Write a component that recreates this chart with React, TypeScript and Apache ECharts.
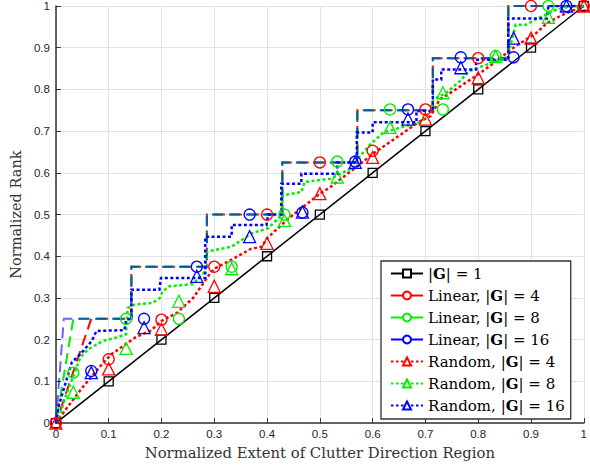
import React, { useEffect, useRef } from 'react';
import * as echarts from 'echarts';

// ---- tick labels ----
const X_TICKS = [0, 0.1, 0.2, 0.3, 0.4, 0.5, 0.6, 0.7, 0.8, 0.9, 1];
const Y_TICKS = [0, 0.1, 0.2, 0.3, 0.4, 0.5, 0.6, 0.7, 0.8, 0.9, 1];

// ---- |G| = 1 ----
const G1_LINE_X = [0, 1];
const G1_LINE_Y = [0, 1];
const G1_MK_X = [0, 0.1, 0.2, 0.3, 0.4, 0.5, 0.6, 0.7, 0.8, 0.9, 1];
const G1_MK_Y = [0, 0.1, 0.2, 0.3, 0.4, 0.5, 0.6, 0.7, 0.8, 0.9, 1];

// ---- Linear staircases ----
const LIN4_X = [0, 0.067, 0.143, 0.143, 0.286, 0.286, 0.429, 0.429, 0.571, 0.571, 0.714, 0.714, 0.857, 0.857, 1];
const LIN8_X = [0, 0.033, 0.143, 0.143, 0.286, 0.286, 0.429, 0.429, 0.571, 0.571, 0.714, 0.714, 0.857, 0.857, 1];
const LIN16_X = [0, 0.015, 0.143, 0.143, 0.286, 0.286, 0.429, 0.429, 0.571, 0.571, 0.714, 0.714, 0.857, 0.857, 1];
const LIN_Y = [0, 0.25, 0.25, 0.375, 0.375, 0.5, 0.5, 0.625, 0.625, 0.75, 0.75, 0.875, 0.875, 1, 1];

// ---- Linear markers (circles) ----
const LIN4_MK_X = [0, 0.1, 0.2, 0.3, 0.4, 0.5, 0.6, 0.7, 0.8, 0.9, 1];
const LIN4_MK_Y = [0, 0.153, 0.248, 0.375, 0.5, 0.625, 0.653, 0.752, 0.875, 1, 1];
const LIN8_MK_X = [0.033, 0.133, 0.233, 0.333, 0.433, 0.533, 0.633, 0.733, 0.833, 0.933];
const LIN8_MK_Y = [0.121, 0.25, 0.25, 0.375, 0.5, 0.627, 0.752, 0.752, 0.88, 1];
const LIN16_MK_X = [0.067, 0.167, 0.267, 0.367, 0.467, 0.567, 0.667, 0.767, 0.867, 0.967];
const LIN16_MK_Y = [0.125, 0.25, 0.375, 0.5, 0.505, 0.627, 0.752, 0.877, 0.877, 1];

// ---- Random curves ----
const RND4_X = [0, 0.02, 0.05, 0.09, 0.105, 0.15, 0.18, 0.2, 0.23, 0.26, 0.29, 0.3, 0.33, 0.37, 0.39, 0.4, 0.44, 0.46, 0.5, 0.52, 0.565, 0.6, 0.65, 0.69, 0.71, 0.727, 0.75, 0.8, 0.83, 0.87, 0.91, 0.93, 0.96, 1];
const RND4_Y = [0, 0.035, 0.085, 0.145, 0.165, 0.205, 0.222, 0.245, 0.265, 0.3, 0.355, 0.37, 0.39, 0.418, 0.423, 0.443, 0.49, 0.51, 0.55, 0.566, 0.61, 0.645, 0.689, 0.724, 0.736, 0.776, 0.794, 0.836, 0.864, 0.903, 0.935, 0.959, 0.979, 1];

const RND8_X = [0, 0.01, 0.018, 0.046, 0.061, 0.089, 0.114, 0.133, 0.136, 0.149, 0.183, 0.197, 0.202, 0.215, 0.258, 0.268, 0.283, 0.286, 0.333, 0.371, 0.402, 0.427, 0.43, 0.465, 0.471, 0.52, 0.565, 0.571, 0.596, 0.621, 0.665, 0.69, 0.708, 0.715, 0.74, 0.765, 0.783, 0.808, 0.833, 0.855, 0.871, 0.89, 0.908, 0.927, 0.946, 0.971, 1];
const RND8_Y = [0, 0.03, 0.062, 0.157, 0.177, 0.197, 0.205, 0.213, 0.276, 0.284, 0.288, 0.3, 0.316, 0.328, 0.333, 0.344, 0.364, 0.411, 0.423, 0.455, 0.467, 0.498, 0.546, 0.554, 0.578, 0.586, 0.614, 0.633, 0.669, 0.697, 0.713, 0.721, 0.745, 0.776, 0.792, 0.82, 0.844, 0.856, 0.867, 0.875, 0.955, 0.955, 0.967, 0.979, 0.99, 0.998, 1];

const RND16_X = [0, 0.005, 0.014, 0.03, 0.049, 0.068, 0.077, 0.13, 0.133, 0.143, 0.143, 0.196, 0.199, 0.283, 0.283, 0.333, 0.333, 0.399, 0.402, 0.427, 0.427, 0.465, 0.465, 0.533, 0.533, 0.57, 0.57, 0.6, 0.6, 0.683, 0.683, 0.714, 0.714, 0.73, 0.73, 0.796, 0.796, 0.857, 0.857, 0.93, 0.933, 1];
const RND16_Y = [0, 0.04, 0.078, 0.145, 0.169, 0.197, 0.221, 0.223, 0.248, 0.25, 0.32, 0.32, 0.348, 0.348, 0.447, 0.447, 0.475, 0.475, 0.5, 0.5, 0.574, 0.574, 0.598, 0.598, 0.625, 0.625, 0.697, 0.697, 0.721, 0.721, 0.748, 0.748, 0.824, 0.824, 0.848, 0.848, 0.871, 0.871, 0.97, 0.97, 1, 1];

// ---- Random markers (triangles) ----
const RND4_MK_X = [0, 0.1, 0.2, 0.3, 0.4, 0.5, 0.6, 0.7, 0.8, 0.9, 1];
const RND4_MK_Y = [0, 0.13, 0.225, 0.328, 0.431, 0.55, 0.637, 0.729, 0.828, 0.923, 1];
const RND8_MK_X = [0.033, 0.133, 0.233, 0.333, 0.433, 0.533, 0.633, 0.733, 0.833, 0.933];
const RND8_MK_Y = [0.074, 0.179, 0.292, 0.37, 0.486, 0.59, 0.709, 0.792, 0.879, 0.973];
const RND16_MK_X = [0.067, 0.167, 0.267, 0.367, 0.467, 0.567, 0.667, 0.767, 0.867, 0.967];
const RND16_MK_Y = [0.121, 0.229, 0.352, 0.447, 0.506, 0.625, 0.729, 0.852, 0.923, 1];

const LEGEND_NAMES = ['g1', 'l4', 'l8', 'l16', 'r4', 'r8', 'r16'];
const LEGEND_LABELS: Record<string, string> = {
  g1: '{n||}{b|G}{n|| = 1}',
  l4: '{n|Linear, |}{b|G}{n|| = 4}',
  l8: '{n|Linear, |}{b|G}{n|| = 8}',
  l16: '{n|Linear, |}{b|G}{n|| = 16}',
  r4: '{n|Random, |}{b|G}{n|| = 4}',
  r8: '{n|Random, |}{b|G}{n|| = 8}',
  r16: '{n|Random, |}{b|G}{n|| = 16}',
};

const RED = '#ff0000';
const GREEN = '#00ee00';
const BLUE = '#0000ff';
const DASH = [11, 6];
const DOT = [3, 2.5];

const zip = (xs: number[], ys: number[]) => xs.map((x, i) => [x, ys[i]]);

function lineSeries(xs: number[], ys: number[], color: string, width: number, type: any, opacity = 1, dashOffset = 0) {
  return {
    type: 'line',
    data: zip(xs, ys),
    symbol: 'none',
    silent: true,
    lineStyle: { color, width, type, opacity, dashOffset, cap: 'butt', join: 'miter' },
  };
}

function markerSeries(xs: number[], ys: number[], color: string, symbol: string, size: number) {
  return {
    type: 'scatter',
    data: zip(xs, ys),
    symbol,
    symbolSize: size,
    silent: true,
    z: 3,
    itemStyle: { color: 'rgba(0,0,0,0)', borderColor: color, borderWidth: 1.3, opacity: 1 },
  };
}

function legendSeries(name: string, color: string, symbol: string, type: any) {
  return {
    name,
    type: 'line',
    data: [],
    symbol,
    lineStyle: { color, width: 2, type },
    itemStyle: { color },
  };
}

export default function App() {
  const ref = useRef<HTMLDivElement>(null);
  useEffect(() => {
    const chart = echarts.init(ref.current!, null, { renderer: 'svg' });
    const serif = 'DejaVu Serif';
    const option: any = {
      animation: false,
      backgroundColor: '#ffffff',
      grid: { left: 52, top: 6, width: 533, height: 420, containLabel: false },
      xAxis: {
        type: 'value',
        min: X_TICKS[0],
        max: X_TICKS[X_TICKS.length - 1],
        interval: 0.1,
        name: 'Normalized Extent of Clutter Direction Region',
        nameLocation: 'middle',
        nameGap: 19,
        nameTextStyle: { fontFamily: serif, fontSize: 14.8, color: '#333333' },
        axisLine: { show: true, lineStyle: { color: '#333333', width: 1.5 } },
        axisTick: { show: true, inside: true, length: 5, lineStyle: { color: '#333333', width: 1 } },
        axisLabel: { fontFamily: 'Liberation Sans', fontSize: 11.5, color: '#262626', margin: 5 },
        splitLine: { show: true, lineStyle: { color: '#e2e2e2', width: 1 } },
      },
      yAxis: {
        type: 'value',
        min: Y_TICKS[0],
        max: Y_TICKS[Y_TICKS.length - 1],
        interval: 0.1,
        name: 'Normalized Rank',
        nameLocation: 'middle',
        nameGap: 28,
        nameTextStyle: { fontFamily: serif, fontSize: 14.5, color: '#333333' },
        axisLine: { show: true, lineStyle: { color: '#333333', width: 1.5 } },
        axisTick: { show: true, inside: true, length: 5, lineStyle: { color: '#333333', width: 1 } },
        axisLabel: { fontFamily: 'Liberation Sans', fontSize: 11.5, color: '#262626', margin: 6 },
        splitLine: { show: true, lineStyle: { color: '#e2e2e2', width: 1 } },
      },
      legend: {
        orient: 'vertical',
        left: 381,
        top: 261,
        itemWidth: 32,
        itemHeight: 10,
        itemGap: 7,
        padding: [5, 6, 6, 9],
        backgroundColor: '#ffffff',
        borderColor: '#333333',
        borderWidth: 1.3,
        borderRadius: 0,
        selectedMode: false,
        data: LEGEND_NAMES,
        formatter: (name: string) => LEGEND_LABELS[name],
        textStyle: {
          fontFamily: serif,
          fontSize: 15,
          color: '#000',
          lineHeight: 14,
          rich: {
            n: { fontFamily: serif, fontSize: 15, color: '#000', lineHeight: 14 },
            b: { fontFamily: serif, fontSize: 15, fontWeight: 'bold', color: '#000', lineHeight: 14 },
          },
        },
      },
      series: [
        lineSeries(G1_LINE_X, G1_LINE_Y, '#000000', 1.5, 'solid'),
        lineSeries(LIN4_X, LIN_Y, RED, 2, DASH, 1, 3),
        lineSeries(LIN8_X, LIN_Y, GREEN, 2, DASH, 1, 8.4),
        lineSeries(LIN16_X, LIN_Y, BLUE, 2, DASH, 0.6, 0),
        lineSeries(RND4_X, RND4_Y, RED, 2.5, DOT),
        lineSeries(RND8_X, RND8_Y, GREEN, 2.5, DOT),
        lineSeries(RND16_X, RND16_Y, BLUE, 2.5, DOT),
        markerSeries(G1_MK_X, G1_MK_Y, '#000000', 'rect', 9),
        markerSeries(LIN4_MK_X, LIN4_MK_Y, RED, 'circle', 11),
        markerSeries(LIN8_MK_X, LIN8_MK_Y, GREEN, 'circle', 11),
        markerSeries(LIN16_MK_X, LIN16_MK_Y, BLUE, 'circle', 11),
        markerSeries(RND4_MK_X, RND4_MK_Y, RED, 'triangle', 12),
        markerSeries(RND8_MK_X, RND8_MK_Y, GREEN, 'triangle', 12),
        markerSeries(RND16_MK_X, RND16_MK_Y, BLUE, 'triangle', 12),
        legendSeries('g1', '#000000', 'emptyRect', 'solid'),
        legendSeries('l4', RED, 'emptyCircle', [12, 8]),
        legendSeries('l8', GREEN, 'emptyCircle', [12, 8]),
        legendSeries('l16', BLUE, 'emptyCircle', [12, 8]),
        legendSeries('r4', RED, 'emptyTriangle', [2.5, 2.5]),
        legendSeries('r8', GREEN, 'emptyTriangle', [2.5, 2.5]),
        legendSeries('r16', BLUE, 'emptyTriangle', [2.5, 2.5]),
      ],
    };
    chart.setOption(option);
    return () => chart.dispose();
  }, []);
  return <div ref={ref} style={{ position: 'fixed', left: 0, top: 0, width: 590, height: 465 }} />;
}
